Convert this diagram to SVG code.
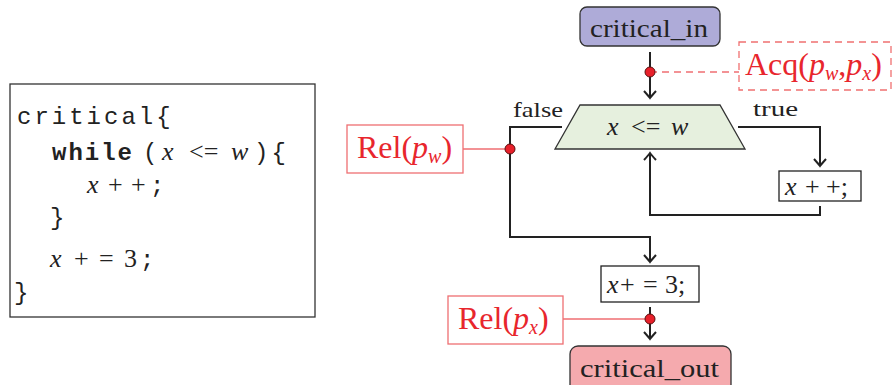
<svg xmlns="http://www.w3.org/2000/svg" width="893" height="385" viewBox="0 0 893 385">
<style>
.mono{font-family:"Liberation Mono","DejaVu Sans Mono",monospace;font-size:24px;fill:#222;letter-spacing:3px}
.monob{font-family:"Liberation Mono","DejaVu Sans Mono",monospace;font-size:24px;font-weight:bold;fill:#222;letter-spacing:2px}
.m{font-family:"Liberation Serif","DejaVu Serif",serif;font-size:26px;fill:#222}
.mi{font-family:"Liberation Serif","DejaVu Serif",serif;font-size:26px;font-style:italic;fill:#222}
.lbl{font-family:"Liberation Serif","DejaVu Serif",serif;font-size:22px;fill:#222}
.red{font-family:"Liberation Serif","DejaVu Serif",serif;font-size:32px;fill:#e8262d}
.sub{font-size:20px;font-style:italic}
.it{font-style:italic}
.ln{fill:none;stroke:#222;stroke-width:2}
.rl{fill:none;stroke:#e8262d;stroke-width:1.2}
.rbox{fill:#fff;stroke:#ee6f72;stroke-width:1.3}
.dot{fill:#e8202a;stroke:#5a1010;stroke-width:1}
.box{fill:#fff;stroke:#222;stroke-width:1.3}
</style>
<defs>
<marker id="arr" viewBox="-9 -7 11 14" refX="0" refY="0" markerWidth="11" markerHeight="14" markerUnits="userSpaceOnUse" orient="auto">
<path d="M-7,-6 Q-2,-1.5 0,0 Q-2,1.5 -7,6" fill="none" stroke="#222" stroke-width="2"/>
</marker>
</defs>
<rect width="893" height="385" fill="#fff"/>

<g id="code">
<rect x="10" y="84" width="305" height="233" fill="#fff" stroke="#333" stroke-width="1.3"/>
<text class="mono" x="17" y="124">critical{</text>
<text class="monob" x="52" y="160">while</text>
<text class="mono" x="143" y="160">(</text>
<text class="mi" x="162" y="160">x</text>
<text class="m" x="189" y="160">&lt;=</text>
<text class="mi" x="231" y="160">w</text>
<text class="mono" x="254" y="160">){</text>
<text class="mi" x="87" y="193">x</text>
<text class="m" x="108" y="193">+</text>
<text class="m" x="131" y="193">+</text>
<text class="mono" x="150" y="193">;</text>
<text class="mono" x="50" y="225">}</text>
<text class="mi" x="50" y="267">x</text>
<text class="m" x="74" y="267">+</text>
<text class="m" x="99" y="267">=</text>
<text class="m" x="124" y="267">3</text>
<text class="mono" x="140" y="267">;</text>
<text class="mono" x="14" y="300">}</text>
</g>

<g id="connectors">
<path class="ln" d="M650,52 V98" marker-end="url(#arr)"/>
<path class="ln" d="M562,127 H510 V237 H650 V262" marker-end="url(#arr)"/>
<path class="ln" d="M738,127 H820 V166" marker-end="url(#arr)"/>
<path class="ln" d="M820,206 V215 H650 V153" marker-end="url(#arr)"/>
<path class="ln" d="M650,307 V339" marker-end="url(#arr)"/>
<path class="rl" d="M650,72 H739" stroke-dasharray="7,5" stroke="#f07070"/>
<path class="rl" d="M463,149 H510"/>
<path class="rl" d="M563,319 H650"/>
<text class="lbl" x="513" y="117" textLength="50" lengthAdjust="spacingAndGlyphs">false</text>
<text class="lbl" x="753" y="116" textLength="45" lengthAdjust="spacingAndGlyphs">true</text>
</g>

<g id="critical_in">
<rect x="580" y="7" width="140" height="39" rx="7" fill="#aeabd8" stroke="#333" stroke-width="1.3"/>
<text class="m" x="590" y="37" textLength="118" lengthAdjust="spacingAndGlyphs">critical_in</text>
</g>

<g id="acq">
<rect x="739" y="42" width="152" height="48" fill="none" stroke="#f07070" stroke-width="1.3" stroke-dasharray="7,5"/>
<text class="red" x="745" y="75">Acq(<tspan class="it">p</tspan><tspan class="sub" dy="5">w</tspan><tspan dy="-5">,</tspan><tspan class="it">p</tspan><tspan class="sub" dy="5">x</tspan><tspan dy="-5">)</tspan></text>
</g>

<g id="cond">
<polygon points="580,105 720,105 745,149 555,149" fill="#e6f0de" stroke="#333" stroke-width="1.3"/>
<text class="mi" x="607" y="135">x</text>
<text class="m" x="631" y="135">&lt;=</text>
<text class="mi" x="671" y="135">w</text>
</g>

<g id="relw">
<rect class="rbox" x="347" y="125" width="116" height="48"/>
<text class="red" x="357" y="158">Rel(<tspan class="it">p</tspan><tspan class="sub" dy="5">w</tspan><tspan dy="-5">)</tspan></text>
</g>

<g id="incr">
<rect class="box" x="779" y="171" width="82" height="30"/>
<text class="mi" x="785" y="195">x</text>
<text class="m" x="805" y="195">+</text>
<text class="m" x="826" y="195">+;</text>
</g>

<g id="add3">
<rect class="box" x="601" y="266" width="98" height="36"/>
<text class="mi" x="607" y="293">x</text>
<text class="m" x="620" y="293">+</text>
<text class="m" x="643" y="293">=</text>
<text class="m" x="665" y="293">3;</text>
</g>

<g id="relx">
<rect class="rbox" x="448" y="296" width="115" height="48"/>
<text class="red" x="458" y="329">Rel(<tspan class="it">p</tspan><tspan class="sub" dy="5">x</tspan><tspan dy="-5">)</tspan></text>
</g>

<g id="critical_out">
<rect x="570" y="346" width="161" height="50" rx="8" fill="#f5aaae" stroke="#333" stroke-width="1.3"/>
<text class="m" x="580" y="377" textLength="139" lengthAdjust="spacingAndGlyphs">critical_out</text>
</g>

<g id="dots">
<circle class="dot" cx="650" cy="72" r="5"/>
<circle class="dot" cx="510" cy="149" r="5"/>
<circle class="dot" cx="650" cy="319" r="5"/>
</g>
</svg>
